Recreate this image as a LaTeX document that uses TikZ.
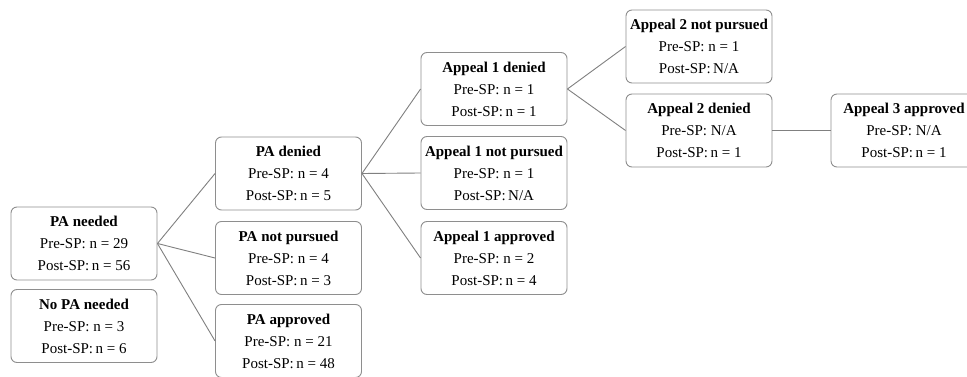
\documentclass[tikz,border=0pt]{standalone}
\usepackage{fontspec}
\setmainfont{Liberation Serif}
\definecolor{boxgray}{HTML}{8E8E8E}
\definecolor{linegray}{HTML}{808080}
\begin{document}
\begin{tikzpicture}[x=1pt,y=-1pt,
  box/.style={draw=boxgray, line width=0.9pt, rounded corners=6pt, minimum width=146pt, minimum height=73pt, inner sep=0pt, align=center, font=\fontsize{15}{22}\selectfont, text=black},
  link/.style={draw=linegray, line width=0.9pt}]
\clip (0,0) rectangle (967,377);
\fill[white] (0,0) rectangle (967,377);
\node[box] (need) at (84,243.5) {\textbf{PA needed}\\Pre-SP: n = 29\\Post-SP:\,n = 56};
\node[box] (noneed) at (84,326) {\textbf{No PA needed}\\Pre-SP: n = 3\\Post-SP:\,n = 6};
\node[box] (den) at (288.5,173.5) {\textbf{PA denied}\\Pre-SP: n = 4\\Post-SP:\,n = 5};
\node[box] (notp) at (288.5,258) {\textbf{PA not pursued}\\Pre-SP: n = 4\\Post-SP:\,n = 3};
\node[box] (app) at (288.5,341) {\textbf{PA approved}\\Pre-SP: n = 21\\Post-SP:\,n = 48};
\node[box] (aden) at (494,89) {\textbf{Appeal 1 denied}\\Pre-SP: n = 1\\Post-SP:\,n = 1};
\node[box] (anotp) at (494,173) {\textbf{Appeal 1 not pursued}\\Pre-SP: n = 1\\Post-SP:\,N/A};
\node[box] (aapp) at (494,258) {\textbf{Appeal 1 approved}\\Pre-SP: n = 2\\Post-SP:\,n = 4};
\node[box] (btnotp) at (699,46.5) {\textbf{Appeal 2 not pursued}\\Pre-SP: n = 1\\Post-SP:\,N/A};
\node[box] (btden) at (699,130.5) {\textbf{Appeal 2 denied}\\Pre-SP: N/A\\Post-SP:\,n = 1};
\node[box] (ctapp) at (904,130.5) {\textbf{Appeal 3 approved}\\Pre-SP: N/A\\Post-SP:\,n = 1};
\draw[link] (need.east) -- (den.west);
\draw[link] (need.east) -- (notp.west);
\draw[link] (need.east) -- (app.west);
\draw[link] (den.east) -- (aden.west);
\draw[link] (den.east) -- (anotp.west);
\draw[link] (den.east) -- (aapp.west);
\draw[link] (aden.east) -- (btnotp.west);
\draw[link] (aden.east) -- (btden.west);
\draw[link] (btden.east) -- (ctapp.west);
\end{tikzpicture}
\end{document}
